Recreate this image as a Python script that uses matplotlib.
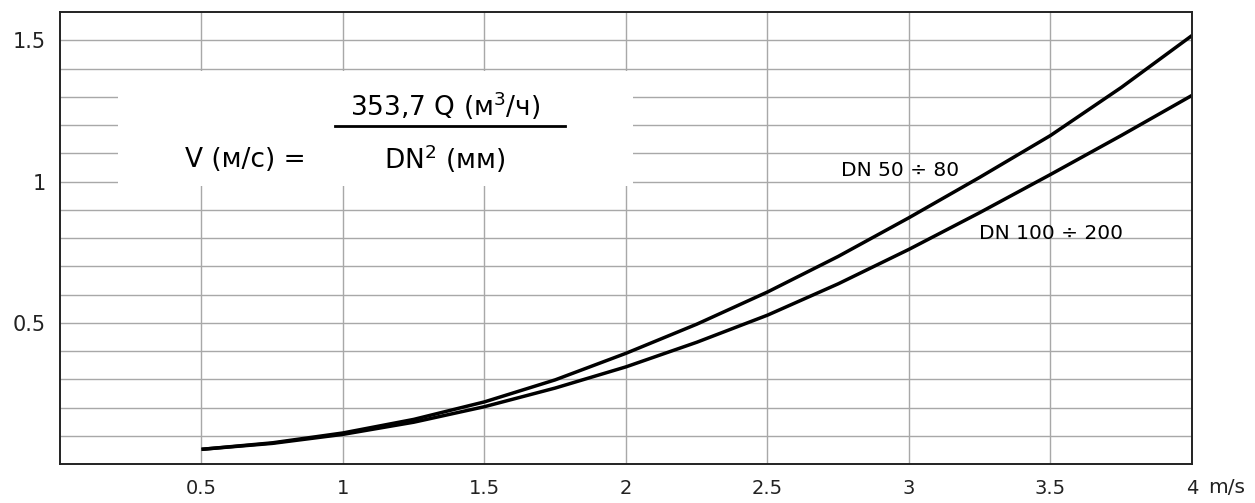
import matplotlib
matplotlib.use('Agg')
import matplotlib.pyplot as plt
from matplotlib.patches import Rectangle

plt.rcParams['font.family'] = ['DejaVu Sans']
plt.rcParams['mathtext.fontset'] = 'dejavusans'

# velocity, m/s
speed = [0.5, 0.75, 1.0, 1.25, 1.5, 1.75, 2.0, 2.25, 2.5, 2.75, 3.0, 3.25, 3.5, 3.75, 4.0]
# DN 50 ÷ 80
dn50_80 = [0.052, 0.075, 0.110, 0.158, 0.220, 0.298, 0.392, 0.495, 0.609, 0.735,
           0.872, 1.015, 1.163, 1.333, 1.517]
# DN 100 ÷ 200
dn100_200 = [0.052, 0.073, 0.105, 0.148, 0.203, 0.269, 0.344, 0.431, 0.527, 0.638,
             0.760, 0.890, 1.025, 1.163, 1.305]

x_ticks = [0.5, 1, 1.5, 2, 2.5, 3, 3.5, 4]
x_labels = ['0.5', '1', '1.5', '2', '2.5', '3', '3.5', '4']
y_ticks = [0.5, 1, 1.5]
y_labels = ['0.5', '1', '1.5']

fig = plt.figure(figsize=(12.55, 5.03), dpi=100)
ax = fig.add_axes([0.0478, 0.0775, 0.902, 0.8985])

ax.set_xlim(0, 4)
ax.set_ylim(0, 1.6)

# grid
for gx in x_ticks:
    ax.axvline(gx, color='#a8a8a8', lw=1.0, zorder=1)
for i in range(1, 16):
    ax.axhline(i / 10, color='#a8a8a8', lw=1.0, zorder=1)

# white box behind the formula
ax.add_patch(Rectangle((0.205, 0.983), 1.818, 0.407, facecolor='white',
                       edgecolor='none', zorder=2))

ax.plot(speed, dn50_80, color='black', lw=2.5, zorder=4, solid_capstyle='butt')
ax.plot(speed, dn100_200, color='black', lw=2.5, zorder=4, solid_capstyle='butt')

ax.set_xticks(x_ticks)
ax.set_xticklabels(x_labels)
ax.set_yticks(y_ticks)
ax.set_yticklabels(y_labels)
ax.tick_params(axis='x', length=0, labelsize=14, colors='#222222', pad=11)
ax.tick_params(axis='y', length=0, labelsize=15, colors='#222222', pad=10)
for s in ax.spines.values():
    s.set_linewidth(1.4)
    s.set_color('#222222')
    s.set_zorder(5)

ax.text(4.058, -0.05, 'm/s', fontsize=14.5, color='#222222', va='top', ha='left',
        clip_on=False)

# formula
ax.text(0.44, 1.075, 'V (м/с) =', fontsize=19, va='center', ha='left', zorder=3)
ax.text(1.36, 1.232, r'353,7 Q (м$^3$/ч)', fontsize=19, va='baseline', ha='center', zorder=3)
ax.plot([0.972, 1.786], [1.195, 1.195], color='black', lw=2.0, zorder=3)
ax.text(1.36, 1.08, r'DN$^2$ (мм)', fontsize=19, va='center', ha='center', zorder=3)

ax.text(2.758, 1.04, 'DN 50 ÷ 80', fontsize=14.5, va='center', ha='left', zorder=3)
ax.text(3.246, 0.817, 'DN 100 ÷ 200', fontsize=14.5, va='center', ha='left', zorder=3)

fig.savefig('out.png', dpi=100)
